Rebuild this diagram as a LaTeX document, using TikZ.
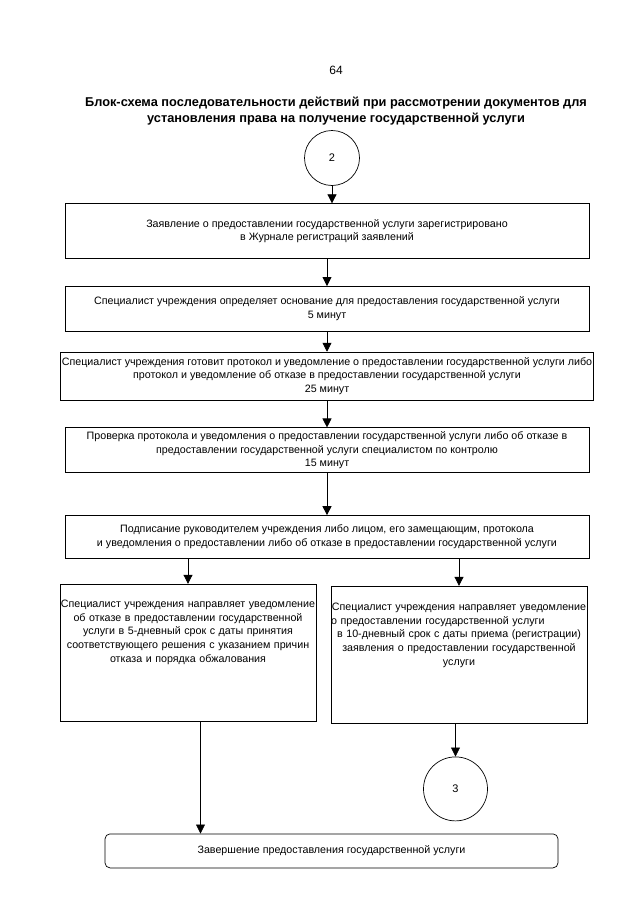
\documentclass[tikz,border=0pt]{standalone}
\usepackage{fontspec}
\setmainfont{Liberation Sans}
\usetikzlibrary{arrows.meta, positioning}

\begin{document}
\begin{tikzpicture}[
    box/.style={draw, align=center, minimum width=524pt, inner sep=1pt, line width=0.7pt},
    sidebox/.style={draw, minimum width=256pt, minimum height=137pt, line width=0.7pt},
    note/.style={align=center, text width=258pt, inner sep=0pt},
    conn/.style={draw, circle, minimum size=55pt, line width=0.7pt, font=\fontsize{11}{13}\selectfont},
    arrow/.style={line width=0.7pt, -{Triangle[width=9pt,length=9pt]}},
    font=\fontsize{10.7}{13.7}\selectfont
]

% Page frame
\useasboundingbox (0,0) rectangle (640pt,-905pt);

% Header
\node[font=\fontsize{12}{14}\selectfont] (pagenum) at (336pt,-70pt) {64};
\node[font=\bfseries\fontsize{12.8}{16}\selectfont, align=center] (title) at (336pt,-111pt)
    {Блок-схема последовательности действий при рассмотрении документов для\\
     установления права на получение государственной услуги};

% Nodes
\node[conn] (start) at (332pt,-158pt) {2};

\node[box, minimum height=55pt, below=17.5pt of start, xshift=-5pt] (reg)
    {Заявление о предоставлении государственной услуги зарегистрировано\\
     в Журнале регистраций заявлений};
\node[box, minimum height=45pt, below=27pt of reg] (basis)
    {Специалист учреждения определяет основание для предоставления государственной услуги\\
     5 минут};
\node[box, minimum height=48pt, below=20pt of basis] (protocol)
    {Специалист учреждения готовит протокол и уведомление о предоставлении государственной услуги либо\\
     протокол и уведомление об отказе в предоставлении государственной услуги\\
     25 минут};
\node[box, minimum height=45pt, below=27pt of protocol] (check)
    {Проверка протокола и уведомления о предоставлении государственной услуги либо об отказе в\\
     предоставлении государственной услуги специалистом по контролю\\
     15 минут};
\node[box, minimum height=43pt, below=42pt of check] (sign)
    {Подписание руководителем учреждения либо лицом, его замещающим, протокола\\
     и уведомления о предоставлении либо об отказе в предоставлении государственной услуги};

\node[sidebox, below=25pt of sign.south west, anchor=north west, xshift=-5pt,
      label={[note, anchor=north, yshift=-16pt]north:{Специалист учреждения направляет уведомление\\
      об отказе в предоставлении государственной\\
      услуги в 5-дневный срок с даты принятия\\
      соответствующего решения с указанием причин\\
      отказа и порядка обжалования}}] (refuse) {};
\node[sidebox, below=27pt of sign.south east, anchor=north east, xshift=-2pt,
      label={[note, anchor=north, yshift=-17pt]north:{Специалист учреждения направляет уведомление\\
      \makebox[256pt][l]{о предоставлении государственной услуги}\\
      в 10-дневный срок с даты приема (регистрации)\\
      заявления о предоставлении государственной\\
      услуги}}] (notify) {};

\node[conn, minimum size=64pt, below=33pt of notify, xshift=-3.5pt] (next) {3};

\node[box, rounded corners=5pt, minimum width=453pt, minimum height=34pt,
      below=112pt of refuse.south west, anchor=north west, xshift=45pt] (finish)
    {Завершение предоставления государственной услуги};

\coordinate (refuseout) at ([xshift=12.5pt]refuse.south);

% Connections
\draw[arrow] (start) -- (start |- reg.north);
\draw[arrow] (reg) -- (basis);
\draw[arrow] (basis) -- (protocol);
\draw[arrow] (protocol) -- (check);
\draw[arrow] (check) -- (sign);
\draw[arrow] (refuse |- sign.south) -- (refuse.north);
\draw[arrow] (notify |- sign.south) -- (notify.north);
\draw[arrow] (notify.south -| next) -- (next);
\draw[arrow] (refuseout) -- (refuseout |- finish.north);

\end{tikzpicture}
\end{document}
